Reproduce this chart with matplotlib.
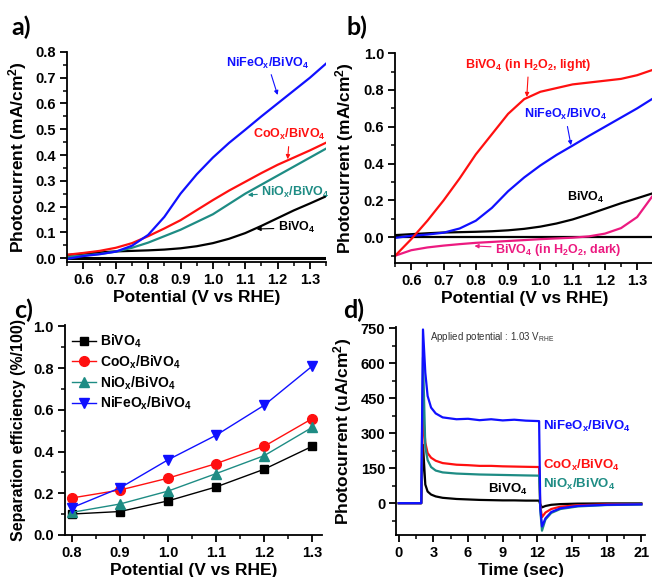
import matplotlib
matplotlib.use("Agg")
import matplotlib.pyplot as plt
from matplotlib.ticker import MultipleLocator

plt.rcParams['font.family'] = ['Liberation Sans Narrow', 'Liberation Sans', 'DejaVu Sans']
plt.rcParams['font.weight'] = 'bold'
plt.rcParams['mathtext.default'] = 'regular'

black = '#000000'
red = '#ff1010'
teal = '#1e8c84'
blue = '#1010ff'
pink = '#ec1a80'

# panel a / b : LSV curves
pot = [0.55, 0.60, 0.65, 0.70, 0.75, 0.80, 0.85, 0.90, 0.95, 1.00,
       1.05, 1.10, 1.15, 1.20, 1.25, 1.30, 1.35]
bivo4_lsv = [0.012, 0.017, 0.022, 0.026, 0.028, 0.030, 0.033, 0.038, 0.046, 0.058,
             0.075, 0.097, 0.125, 0.155, 0.185, 0.212, 0.240]
coox_lsv = [0.013, 0.020, 0.028, 0.040, 0.058, 0.085, 0.115, 0.147, 0.186, 0.225,
            0.262, 0.296, 0.330, 0.362, 0.390, 0.418, 0.448]
niox_lsv = [0.005, 0.010, 0.016, 0.025, 0.040, 0.060, 0.085, 0.110, 0.140, 0.170,
            0.210, 0.250, 0.285, 0.320, 0.355, 0.390, 0.425]
nifeox_lsv = [-0.003, 0.008, 0.015, 0.025, 0.048, 0.090, 0.160, 0.250, 0.325, 0.390,
              0.447, 0.498, 0.550, 0.600, 0.650, 0.700, 0.755]
dark_lsv = [0.0] * 17
h2o2_light = [-0.10, -0.01, 0.09, 0.20, 0.32, 0.45, 0.56, 0.67, 0.75, 0.79,
              0.81, 0.83, 0.84, 0.85, 0.86, 0.88, 0.91]
h2o2_dark = [-0.10, -0.07, -0.055, -0.045, -0.037, -0.030, -0.025, -0.020, -0.015, -0.010,
             -0.006, -0.002, 0.005, 0.020, 0.050, 0.110, 0.230]

# panel c : separation efficiency
pot_c = [0.8, 0.9, 1.0, 1.1, 1.2, 1.3]
sep_bivo4 = [0.100, 0.112, 0.163, 0.230, 0.315, 0.425]
sep_coox = [0.177, 0.215, 0.272, 0.342, 0.425, 0.558]
sep_niox = [0.108, 0.148, 0.210, 0.294, 0.380, 0.516]
sep_nifeox = [0.130, 0.225, 0.360, 0.478, 0.622, 0.810]

# panel d : chopped transient
t = [0, 1.95, 2.1, 2.3, 2.5, 2.8, 3.2, 3.8, 5, 6, 7, 8, 9, 10, 11, 12.15,
     12.25, 12.4, 12.7, 13.2, 14, 15.5, 18, 21]
it_nifeox = [0, 0, 745, 560, 460, 410, 385, 368, 360, 362, 356, 360, 355, 358, 354, 352,
             -20, -100, -65, -38, -22, -12, -7, -5]
it_coox = [0, 0, 390, 260, 215, 195, 182, 172, 165, 163, 160, 160, 158, 157, 156, 155,
           -10, -60, -40, -25, -15, -9, -5, -4]
it_niox = [0, 0, 625, 240, 185, 155, 140, 132, 127, 125, 123, 122, 121, 120, 119, 118,
           -30, -118, -70, -42, -25, -14, -8, -6]
it_bivo4 = [0, 0, 250, 80, 50, 37, 29, 23, 18, 16, 14, 13, 12, 12, 11, 11,
            -5, -18, -12, -7, -4, -2, -1, -1]


def style_axis(ax):
  ax.spines['top'].set_visible(False)
  ax.spines['right'].set_visible(False)
  ax.spines['left'].set_linewidth(1.3)
  ax.spines['bottom'].set_linewidth(1.3)
  ax.tick_params(which='major', direction='out', length=5, width=1.3, labelsize=10.5, pad=3)
  ax.tick_params(which='minor', direction='out', length=3, width=1.1)
  for lab in ax.get_xticklabels() + ax.get_yticklabels():
    lab.set_fontweight('bold')


def arrow(ax, text, xy, xytext, color, size=9):
  ax.annotate(text, xy=xy, xytext=xytext, color=color, fontsize=size,
              fontweight='bold', ha='center', va='center',
              arrowprops=dict(arrowstyle='-|>', color=color, lw=0.8,
                              mutation_scale=6, shrinkA=1, shrinkB=0))


fig = plt.figure(figsize=(6.52, 5.77), dpi=100)
lab_size = 12.5

# ---- a)
ax = fig.add_axes([0.1032, 0.546, 0.397, 0.364])
ax.plot(pot, dark_lsv, color=black, lw=2.2)
ax.plot(pot, bivo4_lsv, color=black, lw=1.6)
ax.plot(pot, niox_lsv, color=teal, lw=1.6)
ax.plot(pot, coox_lsv, color=red, lw=1.6)
ax.plot(pot, nifeox_lsv, color=blue, lw=1.6)
ax.set_xlim(0.55, 1.35)
ax.set_ylim(-0.015, 0.8)
ax.xaxis.set_major_locator(MultipleLocator(0.1))
ax.xaxis.set_minor_locator(MultipleLocator(0.05))
ax.yaxis.set_major_locator(MultipleLocator(0.1))
ax.yaxis.set_minor_locator(MultipleLocator(0.05))
style_axis(ax)
ax.set_xlabel('Potential (V vs RHE)', fontsize=lab_size, fontweight='bold', labelpad=2)
ax.set_ylabel('Photocurrent (mA/cm$^2$)', fontsize=lab_size, fontweight='bold', labelpad=5)
arrow(ax, 'NiFeO$_x$/BiVO$_4$', (1.200, 0.633), (1.169, 0.757), blue)
arrow(ax, 'CoO$_x$/BiVO$_4$', (1.231, 0.384), (1.237, 0.478), red)
arrow(ax, 'NiO$_x$/BiVO$_4$', (1.108, 0.245), (1.256, 0.256), teal)
arrow(ax, 'BiVO$_4$', (1.135, 0.113), (1.259, 0.117), black)
fig.text(0.017, 0.94, 'a)', fontsize=18, fontweight='bold', family='Lato')

# ---- b)
ax = fig.add_axes([0.606, 0.544, 0.396, 0.364])
ax.plot(pot, dark_lsv, color=black, lw=1.6)
ax.plot(pot, bivo4_lsv, color=black, lw=1.6)
ax.plot(pot, h2o2_dark, color=pink, lw=1.6)
ax.plot(pot, nifeox_lsv, color=blue, lw=1.6)
ax.plot(pot, h2o2_light, color=red, lw=1.6)
ax.set_xlim(0.55, 1.35)
ax.set_ylim(-0.14, 1.0)
ax.xaxis.set_major_locator(MultipleLocator(0.1))
ax.xaxis.set_minor_locator(MultipleLocator(0.05))
ax.yaxis.set_major_locator(MultipleLocator(0.2))
ax.yaxis.set_minor_locator(MultipleLocator(0.1))
style_axis(ax)
ax.set_xlabel('Potential (V vs RHE)', fontsize=lab_size, fontweight='bold', labelpad=2)
ax.set_ylabel('Photocurrent (mA/cm$^2$)', fontsize=lab_size, fontweight='bold', labelpad=5)
arrow(ax, 'BiVO$_4$ (in H$_2$O$_2$, light)', (0.958, 0.762), (0.964, 0.936), red)
arrow(ax, 'NiFeO$_x$/BiVO$_4$', (1.095, 0.50), (1.077, 0.665), blue)
ax.text(1.141, 0.214, 'BiVO$_4$', color=black, fontsize=9, fontweight='bold',
        ha='center', va='center')
arrow(ax, 'BiVO$_4$ (in H$_2$O$_2$, dark)', (0.796, -0.047), (1.056, -0.069), pink)
fig.text(0.531, 0.94, 'b)', fontsize=18, fontweight='bold', family='Lato')

# ---- c)
ax = fig.add_axes([0.0997, 0.073, 0.394, 0.363])
ax.plot(pot_c, sep_bivo4, color=black, lw=1, marker='s', ms=6, label='BiVO$_4$')
ax.plot(pot_c, sep_coox, color=red, lw=1, marker='o', ms=7, label='CoO$_x$/BiVO$_4$')
ax.plot(pot_c, sep_niox, color=teal, lw=1, marker='^', ms=7, label='NiO$_x$/BiVO$_4$')
ax.plot(pot_c, sep_nifeox, color=blue, lw=1, marker='v', ms=7, label='NiFeO$_x$/BiVO$_4$')
ax.set_xlim(0.786, 1.32)
ax.set_ylim(0.0, 1.005)
ax.xaxis.set_major_locator(MultipleLocator(0.1))
ax.xaxis.set_minor_locator(MultipleLocator(0.05))
ax.yaxis.set_major_locator(MultipleLocator(0.2))
ax.yaxis.set_minor_locator(MultipleLocator(0.1))
style_axis(ax)
ax.set_xlabel('Potential (V vs RHE)', fontsize=lab_size, fontweight='bold', labelpad=2)
ax.set_ylabel('Separation efficiency (%/100)', fontsize=11.5, fontweight='bold', labelpad=5)
ax.legend(loc='upper left', frameon=False, fontsize=10, handlelength=1.7,
          handletextpad=0.35, borderaxespad=0.2, borderpad=0.3, labelspacing=0.25)
fig.text(0.022, 0.448, 'c)', fontsize=18, fontweight='bold', family='Lato')

# ---- d)
ax = fig.add_axes([0.608, 0.073, 0.381, 0.360])
ax.plot(t, it_bivo4, color=black, lw=1.6)
ax.plot(t, it_coox, color=red, lw=1.6)
ax.plot(t, it_niox, color=teal, lw=1.6)
ax.plot(t, it_nifeox, color=blue, lw=1.6)
ax.set_xlim(-0.2, 21.3)
ax.set_ylim(-136, 755)
ax.xaxis.set_major_locator(MultipleLocator(3))
ax.xaxis.set_minor_locator(MultipleLocator(1.5))
ax.yaxis.set_major_locator(MultipleLocator(150))
ax.yaxis.set_minor_locator(MultipleLocator(75))
style_axis(ax)
ax.set_xlabel('Time (sec)', fontsize=lab_size, fontweight='bold', labelpad=2)
ax.set_ylabel('Photocurrent (uA/cm$^2$)', fontsize=lab_size, fontweight='bold', labelpad=5)
ax.text(12.45, 330, 'NiFeO$_x$/BiVO$_4$', color=blue, fontsize=9.5, fontweight='bold', va='center')
ax.text(12.45, 163, 'CoO$_x$/BiVO$_4$', color=red, fontsize=9.5, fontweight='bold', va='center')
ax.text(12.45, 80, 'NiO$_x$/BiVO$_4$', color=teal, fontsize=9.5, fontweight='bold', va='center')
ax.text(7.7, 57, 'BiVO$_4$', color=black, fontsize=9.5, fontweight='bold', va='center')
ax.text(2.7, 712, 'Applied potential : 1.03 V$_{RHE}$', color='#333333', fontsize=7,
        fontweight='normal', va='center')
fig.text(0.527, 0.448, 'd)', fontsize=18, fontweight='bold', family='Lato')

fig.savefig('out.png', dpi=100)
